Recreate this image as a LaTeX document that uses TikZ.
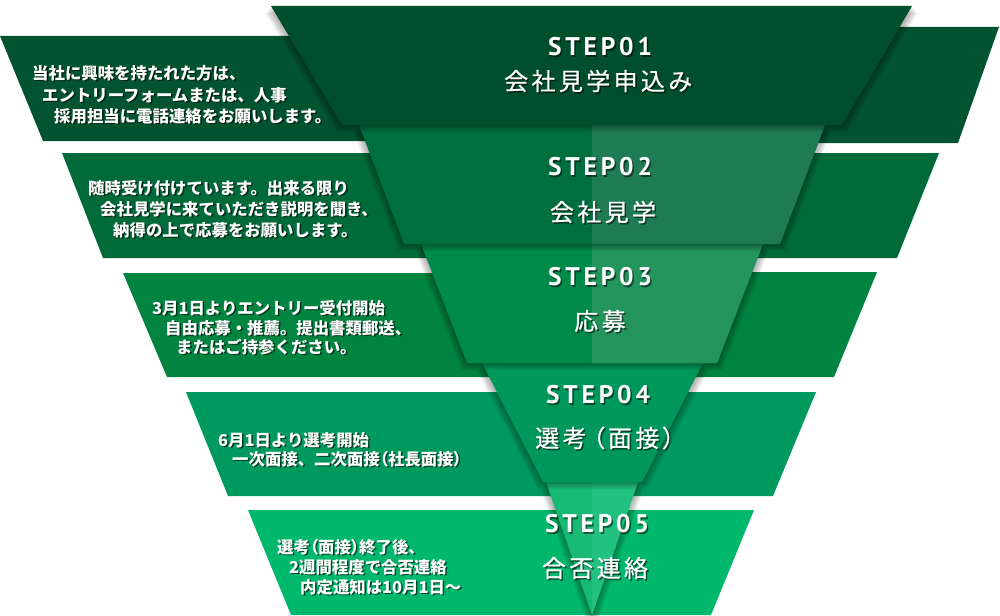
\documentclass[tikz,border=0pt]{standalone}
\usepackage{fontspec}
\newfontfamily\jp{Noto Sans CJK JP}
\newfontfamily\jptitle{Noto Sans CJK JP}[LetterSpace=14,FakeBold=0.6,RawFeature=+palt]
\newfontfamily\stepf{PT Sans}[LetterSpace=15]
\newcommand{\jlp}{{\addfontfeature{RawFeature=+palt}（}}
\newcommand{\jrp}{{\addfontfeature{RawFeature=+palt}）}}
\usetikzlibrary{calc}
\definecolor{s1}{HTML}{02532F}
\definecolor{b1}{HTML}{004F2C}
\definecolor{s2}{HTML}{006B39}
\definecolor{b2L}{HTML}{006F3E}
\definecolor{b2R}{HTML}{1F7C52}
\definecolor{s3}{HTML}{00843F}
\definecolor{b3L}{HTML}{008A4A}
\definecolor{b3R}{HTML}{22945C}
\definecolor{s4}{HTML}{009A5E}
\definecolor{b4}{HTML}{00985A}
\definecolor{s5}{HTML}{00B86B}
\definecolor{b5L}{HTML}{17B974}
\definecolor{b5R}{HTML}{22C180}
\newcommand{\castshadow}[4]{%
  \foreach \j in {1,...,8}{%
    \fill[black,opacity=0.045] ($(#1)+(-0.7*\j,0.9*\j)$) -- ($(#2)+(0.7*\j,0.9*\j)$) -- ($(#3)+(0.7*\j,0.9*\j)$) -- ($(#4)+(-0.7*\j,0.9*\j)$) -- cycle;
  }}
\newcommand{\ltext}[4]{%
  \node[txtsh] (#1s) at (#2+1.5,#3+1.5) {#4};
  \node[txt] (#1) at (#2,#3) {#4};}
\newcommand{\ctext}[5]{%
  \node[#5,text=black,text opacity=0.5] (#1s) at (#2+1.5,#3+1.5) {#4};
  \node[#5] (#1) at (#2,#3) {#4};}
\begin{document}
\begin{tikzpicture}[x=1pt,y=-1pt,
  txt/.style={text=white,anchor=west,inner sep=0pt,font=\jp\bfseries\fontsize{16.4}{20}\selectfont},
  txtsh/.style={txt,text=black,text opacity=0.6},
  stepl/.style={text=white,inner sep=0pt,font=\stepf\bfseries\fontsize{25.5}{28}\selectfont},
  titl/.style={text=white,inner sep=0pt,font=\jptitle\fontsize{24}{28}\selectfont}]
\useasboundingbox (0,0) rectangle (1000,615);
% ---- strips ----
\fill[s1] (0,36) -- (592,36) -- (592,141) -- (43,141) -- cycle;
\fill[s1] (592,27) -- (999,27) -- (958,143) -- (592,143) -- cycle;
\fill[s2] (62,153) -- (592,153) -- (592,258) -- (103,258) -- cycle;
\fill[s2] (592,153) -- (939,153) -- (897,258) -- (592,258) -- cycle;
\fill[s3] (123,273) -- (592,273) -- (592,377) -- (167,377) -- cycle;
\fill[s3] (592,272) -- (877,272) -- (834,377) -- (592,377) -- cycle;
\fill[s4] (186,392) -- (592,392) -- (592,496) -- (228,496) -- cycle;
\fill[s4] (592,392) -- (816,392) -- (773,496) -- (592,496) -- cycle;
\fill[s5] (248,510) -- (592,510) -- (592,615) -- (291,615) -- cycle;
\fill[s5] (592,510) -- (754,510) -- (711,615) -- (592,615) -- cycle;
% ---- band corners ----
\coordinate (b1a) at (271,6);   \coordinate (b1b) at (912,6);
\coordinate (b1c) at (842,125); \coordinate (b1d) at (342,125);
\coordinate (b2a) at (359,125); \coordinate (b2b) at (825,125);
\coordinate (b2c) at (780,244); \coordinate (b2d) at (404,244);
\coordinate (b3a) at (421,244); \coordinate (b3b) at (763,244);
\coordinate (b3c) at (717,363); \coordinate (b3d) at (467,363);
\coordinate (b4a) at (482,363); \coordinate (b4b) at (703,363);
\coordinate (b4c) at (642,482); \coordinate (b4d) at (543,482);
\coordinate (b5a) at (546,482); \coordinate (b5b) at (638,482);
\coordinate (b5c) at (592,615);
% ---- band 5 ----
\castshadow{b5a}{b5b}{b5c}{b5c}
\fill[b5L] (b5a) -- (b5b) -- (b5c) -- cycle;
\fill[b5R] (592,482) -- (b5b) -- (b5c) -- cycle;
% ---- band 4 ----
\castshadow{b4a}{b4b}{b4c}{b4d}
\fill[b4] (b4a) -- (b4b) -- (b4c) -- (b4d) -- cycle;
% ---- band 3 ----
\castshadow{b3a}{b3b}{b3c}{b3d}
\fill[b3L] (b3a) -- (b3b) -- (b3c) -- (b3d) -- cycle;
\fill[b3R] (592,244) -- (b3b) -- (b3c) -- (592,363) -- cycle;
% ---- band 2 ----
\castshadow{b2a}{b2b}{b2c}{b2d}
\fill[b2L] (b2a) -- (b2b) -- (b2c) -- (b2d) -- cycle;
\fill[b2R] (592,125) -- (b2b) -- (b2c) -- (592,244) -- cycle;
% ---- band 1 ----
\castshadow{b1a}{b1b}{b1c}{b1d}
\fill[b1] (b1a) -- (b1b) -- (b1c) -- (b1d) -- cycle;
% ---- step titles ----
\ctext{st1}{600}{47}{STEP01}{stepl}
\ctext{tt1}{598}{81}{会社見学申込み}{titl}
\ctext{st2}{600}{167}{STEP02}{stepl}
\ctext{tt2}{603}{212}{会社見学}{titl}
\ctext{st3}{600}{277}{STEP03}{stepl}
\ctext{tt3}{600}{321}{応募}{titl}
\ctext{st4}{598}{395}{STEP04}{stepl}
\ctext{tt4}{605}{438}{選考\hspace{6pt}（面接）}{titl}
\ctext{st5}{597}{524}{STEP05}{stepl}
\ctext{tt5}{595}{568}{合否連絡}{titl}
% ---- left texts ----
\ltext{a1}{32}{73}{当社に興味を持たれた方は、}
\ltext{a2}{42}{95}{エントリーフォームまたは、人事}
\ltext{a3}{54}{116}{採用担当に電話連絡をお願いします。}
\ltext{c1}{88}{188}{随時受け付けています。出来る限り}
\ltext{c2}{100}{209}{会社見学に来ていただき説明を聞き、}
\ltext{c3}{113}{230}{納得の上で応募をお願いします。}
\ltext{d1}{152}{308}{3月1日よりエントリー受付開始}
\ltext{d2}{165}{328}{自由応募・推薦。提出書類郵送、}
\ltext{d3}{176}{347}{またはご持参ください。}
\ltext{e1}{218}{440}{6月1日より選考開始}
\ltext{e2}{232}{459}{一次面接、二次面接\jlp 社長面接\jrp}
\ltext{f1}{277}{547}{選考\jlp 面接\jrp 終了後、}
\ltext{f2}{289}{567}{2週間程度で合否連絡}
\ltext{f3}{300}{587}{内定通知は10月1日〜}
\end{tikzpicture}
\end{document}
